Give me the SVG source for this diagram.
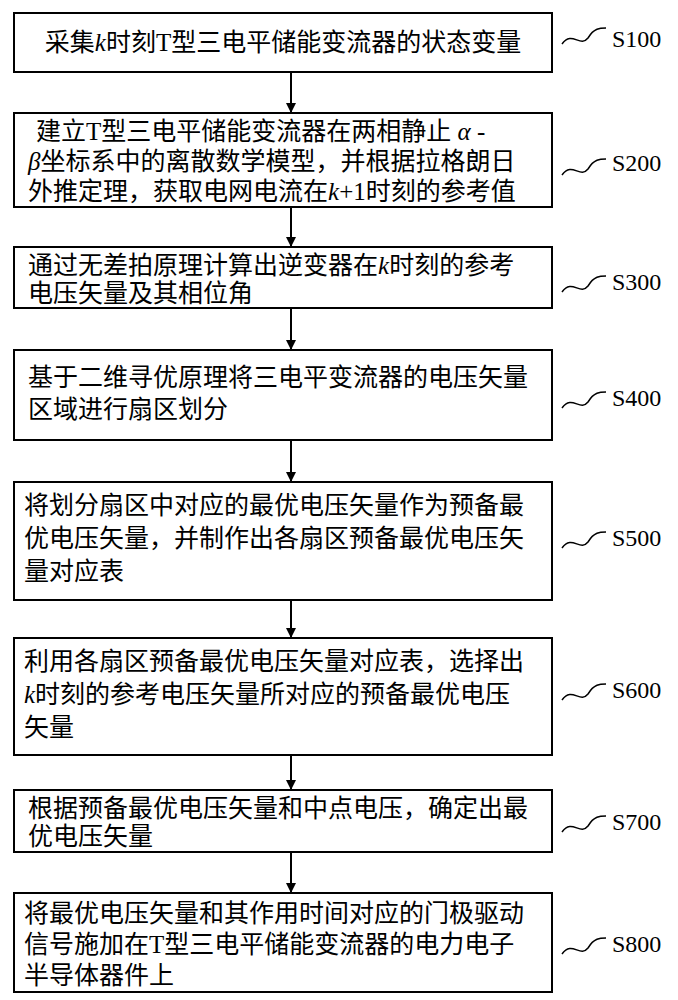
<svg xmlns="http://www.w3.org/2000/svg" width="678" height="1000" viewBox="0 0 678 1000">
<defs><marker id="ah" markerWidth="10" markerHeight="10" refX="9" refY="5" orient="auto" markerUnits="userSpaceOnUse"><path d="M0,0 L10,5 L0,10 Z" fill="#000"/></marker></defs>
<style>
.b{fill:#fff;stroke:#000;stroke-width:2}
.t{font-family:"Liberation Serif","Noto Sans CJK SC",serif;font-size:25px;fill:#000}
.s{font-family:"Liberation Serif",serif;font-size:24px;fill:#000}
.w{fill:none;stroke:#000;stroke-width:1.5}
.c{stroke:#000;stroke-width:2;fill:none}
</style>
<rect width="678" height="1000" fill="#fff"/>
<g id="connectors">
<line class="c" x1="291" y1="72" x2="291" y2="112" marker-end="url(#ah)"/>
<line class="c" x1="291" y1="207" x2="291" y2="246" marker-end="url(#ah)"/>
<line class="c" x1="291" y1="308" x2="291" y2="349" marker-end="url(#ah)"/>
<line class="c" x1="291" y1="440" x2="291" y2="481" marker-end="url(#ah)"/>
<line class="c" x1="291" y1="600" x2="291" y2="637" marker-end="url(#ah)"/>
<line class="c" x1="291" y1="755" x2="291" y2="789" marker-end="url(#ah)"/>
<line class="c" x1="291" y1="852" x2="291" y2="892" marker-end="url(#ah)"/>
</g>
<g id="n1"><rect class="b" x="14" y="13" width="538" height="59"/><text class="t" x="283" y="51" text-anchor="middle">采集<tspan font-style="italic">k</tspan>时刻T型三电平储能变流器的状态变量</text>
<path class="w" d="M562,44 c10,-14 18,4 26,-6 c6,-10 12,-10 18,-10"/><text class="s" x="612" y="47">S100</text></g>
<g id="n2"><rect class="b" x="14" y="113" width="538" height="94"/><text class="t" x="36" y="140">建立T型三电平储能变流器在两相静止 <tspan font-style="italic">α</tspan> -</text><text class="t" x="28" y="170"><tspan font-style="italic">β</tspan>坐标系中的离散数学模型，并根据拉格朗日</text><text class="t" x="28" y="200">外推定理，获取电网电流在<tspan font-style="italic">k</tspan>+1时刻的参考值</text>
<path class="w" d="M562,175 c10,-14 18,4 26,-6 c6,-10 12,-10 18,-10"/><text class="s" x="612" y="171">S200</text></g>
<g id="n3"><rect class="b" x="14" y="247" width="538" height="61"/><text class="t" x="28" y="274">通过无差拍原理计算出逆变器在<tspan font-style="italic">k</tspan>时刻的参考</text><text class="t" x="28" y="302">电压矢量及其相位角</text>
<path class="w" d="M562,292 c10,-14 18,4 26,-6 c6,-10 12,-10 18,-10"/><text class="s" x="612" y="290">S300</text></g>
<g id="n4"><rect class="b" x="14" y="350" width="538" height="90"/><text class="t" x="28" y="386">基于二维寻优原理将三电平变流器的电压矢量</text><text class="t" x="28" y="418">区域进行扇区划分</text>
<path class="w" d="M562,408 c10,-14 18,4 26,-6 c6,-10 12,-10 18,-10"/><text class="s" x="612" y="406">S400</text></g>
<g id="n5"><rect class="b" x="14" y="482" width="538" height="118"/><text class="t" x="24" y="514">将划分扇区中对应的最优电压矢量作为预备最</text><text class="t" x="24" y="547">优电压矢量，并制作出各扇区预备最优电压矢</text><text class="t" x="24" y="580">量对应表</text>
<path class="w" d="M562,548 c10,-14 18,4 26,-6 c6,-10 12,-10 18,-10"/><text class="s" x="612" y="546">S500</text></g>
<g id="n6"><rect class="b" x="14" y="638" width="538" height="117"/><text class="t" x="24" y="670">利用各扇区预备最优电压矢量对应表，选择出</text><text class="t" x="24" y="703"><tspan font-style="italic">k</tspan>时刻的参考电压矢量所对应的预备最优电压</text><text class="t" x="24" y="736">矢量</text>
<path class="w" d="M562,700 c10,-14 18,4 26,-6 c6,-10 12,-10 18,-10"/><text class="s" x="612" y="698">S600</text></g>
<g id="n7"><rect class="b" x="14" y="790" width="538" height="62"/><text class="t" x="28" y="817">根据预备最优电压矢量和中点电压，确定出最</text><text class="t" x="28" y="845">优电压矢量</text>
<path class="w" d="M562,832 c10,-14 18,4 26,-6 c6,-10 12,-10 18,-10"/><text class="s" x="612" y="830">S700</text></g>
<g id="n8"><rect class="b" x="14" y="893" width="538" height="99"/><text class="t" x="24" y="922">将最优电压矢量和其作用时间对应的门极驱动</text><text class="t" x="24" y="953">信号施加在T型三电平储能变流器的电力电子</text><text class="t" x="24" y="984">半导体器件上</text>
<path class="w" d="M562,954 c10,-14 18,4 26,-6 c6,-10 12,-10 18,-10"/><text class="s" x="612" y="952">S800</text></g>
</svg>
